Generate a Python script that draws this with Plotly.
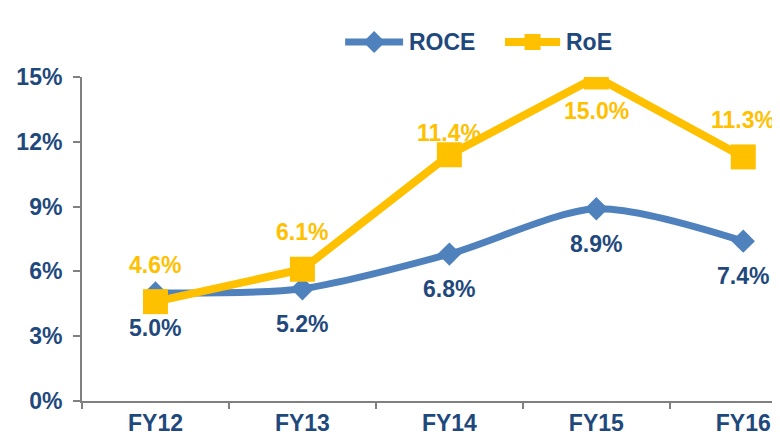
import plotly.graph_objects as go

categories = ["FY12", "FY13", "FY14", "FY15", "FY16"]
roce = [5.0, 5.2, 6.8, 8.9, 7.4]
roe = [4.6, 6.1, 11.4, 15.0, 11.3]
y_ticks = [0, 3, 6, 9, 12, 15]

BLUE = "#4F81BD"
DARK = "#1F497D"
GOLD = "#FFC000"
FONT = "Liberation Sans, Arial, sans-serif"
FS = 23

fig = go.Figure()
fig.add_trace(go.Scatter(
    x=categories, y=roce, name="ROCE", mode="lines+markers",
    line=dict(color=BLUE, width=7, shape="spline", smoothing=0.8),
    marker=dict(symbol="diamond", size=18, color=BLUE),
))
fig.add_trace(go.Scatter(
    x=categories, y=roe, name="RoE", mode="lines+markers",
    line=dict(color=GOLD, width=8),
    marker=dict(symbol="square", size=25, color=GOLD),
))

# data labels
for c, v in zip(categories, roce):
    fig.add_annotation(x=c, y=v, text=f"<b>{v:.1f}%</b>", showarrow=False,
                       yshift=-35, font=dict(family=FONT, size=FS, color=DARK))
ymax = max(roe)
for i, (c, v) in enumerate(zip(categories, roe)):
    if v >= ymax:
        shift = -34
    elif 0 < i < len(roe) - 1 and roe[i - 1] < v < roe[i + 1] and v > 10:
        shift = 22
    else:
        shift = 37
    fig.add_annotation(x=c, y=v, text=f"<b>{v:.1f}%</b>", showarrow=False,
                       yshift=shift, font=dict(family=FONT, size=FS, color=GOLD))

# custom legend (longer line samples, as in the reference)
LY = 1.108
legend_items = [
    ("ROCE", BLUE, 7, 0.377, 0.460, "diamond"),
    ("RoE", GOLD, 8, 0.606, 0.685, "square"),
]
for name, col, w, x0, x1, sym in legend_items:
    fig.add_shape(type="line", xref="paper", yref="paper", x0=x0, x1=x1, y0=LY, y1=LY,
                  line=dict(color=col, width=w))
    xm = (x0 + x1) / 2
    if sym == "diamond":
        fig.add_shape(type="path", xref="paper", yref="paper", xsizemode="pixel",
                      ysizemode="pixel", xanchor=xm, yanchor=LY,
                      path="M0,11 L11,0 L0,-11 L-11,0 Z", fillcolor=col, line=dict(width=0))
    else:
        fig.add_shape(type="rect", xref="paper", yref="paper", xsizemode="pixel",
                      ysizemode="pixel", xanchor=xm, yanchor=LY,
                      x0=-8, x1=8, y0=-8, y1=8, fillcolor=col, line=dict(width=0))
    fig.add_annotation(xref="paper", yref="paper", x=x1 + 0.006, y=LY, xanchor="left",
                       yanchor="middle", text=f"<b>{name}</b>", showarrow=False,
                       font=dict(family=FONT, size=FS, color=DARK))

fig.update_layout(
    width=772, height=427,
    margin=dict(l=74, r=0, t=69, b=34, autoexpand=False),
    paper_bgcolor="white", plot_bgcolor="white",
    font=dict(family=FONT, size=FS, color=DARK),
    showlegend=False,
)
fig.update_xaxes(
    range=[-0.5, 4.25], showgrid=False, zeroline=False, automargin=False,
    showline=True, linecolor="#808080", linewidth=2,
    ticks="outside", tickson="boundaries", ticklen=6, tickcolor="#808080", tickwidth=2,
    tickfont=dict(family=FONT, size=FS, color=DARK, weight="bold"),
)
fig.update_yaxes(
    range=[0, 15], tickvals=y_ticks, ticktext=[f"{t}%" for t in y_ticks],
    showgrid=False, zeroline=False, automargin=False,
    showline=True, linecolor="#808080", linewidth=2,
    ticks="outside", ticklen=7, tickcolor="#808080", tickwidth=2, ticklabelstandoff=6,
    tickfont=dict(family=FONT, size=FS, color=DARK, weight="bold"),
)
fig.write_html("out.html")
